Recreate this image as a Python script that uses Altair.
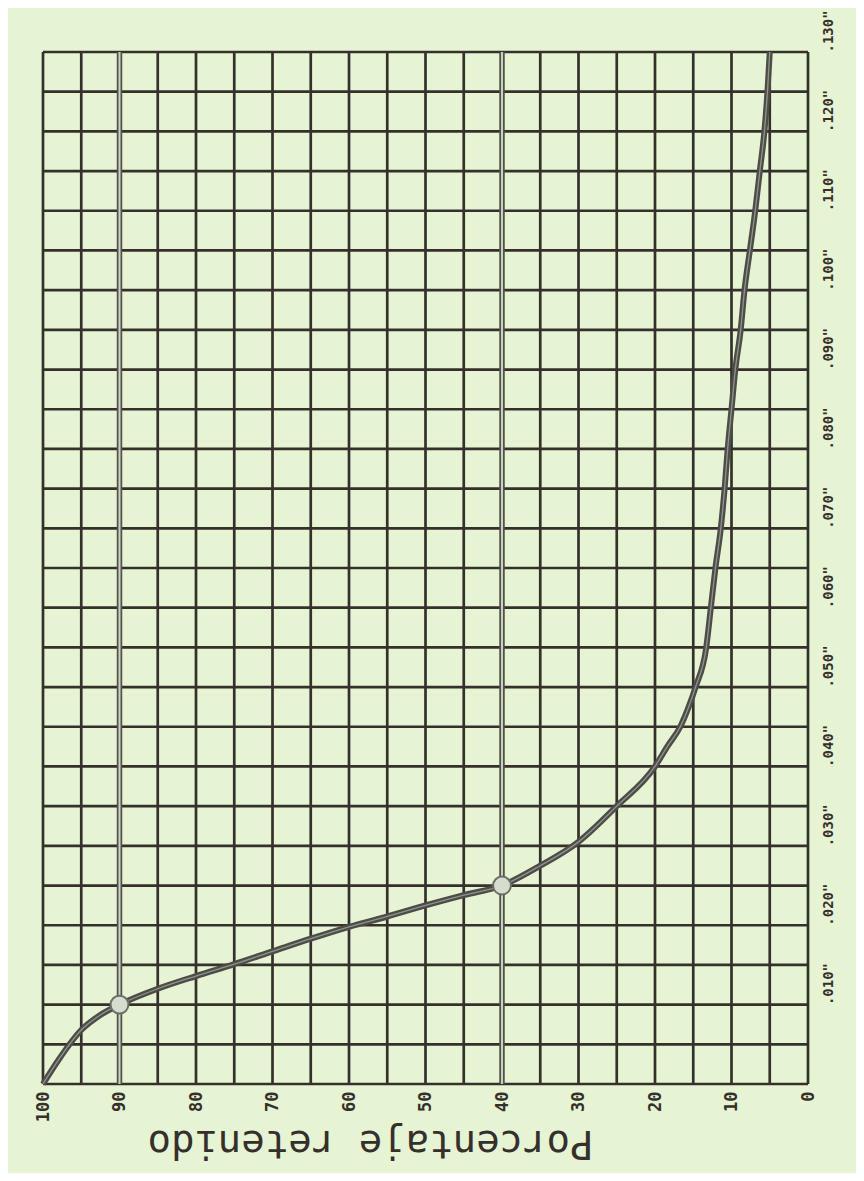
import altair as alt
import pandas as pd

# Curve: percent retained vs particle size (inches)
pct_retained = [100, 98, 95, 92.5, 90, 85, 80, 75, 70, 65, 60, 55, 50, 45, 40, 35, 30, 25, 20, 18.4,
                16.7, 15.6, 14.7, 13.3, 12.7, 12.1, 11.4, 10.9, 10.5, 10.0, 9.5, 8.8, 8.3, 7.6, 6.9, 6.3,
                5.7, 5.3, 5.0]
size_in = [0.0, 0.003, 0.0068, 0.0087, 0.010, 0.0120, 0.0136, 0.0151, 0.0167, 0.0183, 0.0198, 0.0211,
           0.0225, 0.0238, 0.025, 0.0275, 0.0305, 0.035, 0.0400, 0.0425,
           0.045, 0.0475, 0.050, 0.055, 0.060, 0.065, 0.070, 0.075, 0.080, 0.085, 0.090, 0.095,
           0.100, 0.105, 0.110, 0.115, 0.120, 0.125, 0.130]

# Marked points (circles)
marked_pct = [90, 40]
marked_in = [0.010, 0.025]

# Axis labels
x_label_values = [100, 90, 80, 70, 60, 50, 40, 30, 20, 10, 0]
y_label_values = [0.010, 0.020, 0.030, 0.040, 0.050, 0.060, 0.070, 0.080, 0.090, 0.100, 0.110, 0.120, 0.130]

# Grid lines
grid_pct = [0, 5, 10, 15, 20, 25, 30, 35, 40, 45, 50, 55, 60, 65, 70, 75, 80, 85, 90, 95, 100]
grid_in = [0.000, 0.005, 0.010, 0.015, 0.020, 0.025, 0.030, 0.035, 0.040, 0.045, 0.050, 0.055, 0.060,
           0.065, 0.070, 0.075, 0.080, 0.085, 0.090, 0.095, 0.100, 0.105, 0.110, 0.115, 0.120, 0.125, 0.130]
heavy_pct = [90, 40]

PAPER = "#e6f4d3"
INK = "#35302b"
FONT = "DejaVu Sans Mono"

xs = alt.Scale(domain=[100, 0], nice=False, zero=False)
ys = alt.Scale(domain=[0, 0.130], nice=False, zero=False)

curve_df = pd.DataFrame({"p": pct_retained, "s": size_in, "o": list(range(len(size_in)))})
mark_df = pd.DataFrame({"p": marked_pct, "s": marked_in})
gv_df = pd.DataFrame({"p": grid_pct})
gh_df = pd.DataFrame({"s": grid_in})
heavy_df = pd.DataFrame({"p": heavy_pct})

x_axis = alt.Axis(
    orient="bottom", values=x_label_values, grid=False, ticks=False, domain=False,
    labelAngle=270, labelAlign="right", labelBaseline="middle", labelPadding=7,
    labelFont=FONT, labelFontSize=17, labelFontWeight="bold", labelColor=INK,
    title="Porcentaje retenido", titleAngle=180, titleFont=FONT, titleFontSize=39,
    titleFontWeight="normal", titleColor=INK, titleAlign="center", titleBaseline="middle",
    titleX=327, titleY=58,
)
y_axis = alt.Axis(
    orient="right", values=y_label_values, grid=False, ticks=False, domain=False,
    labelAngle=270, labelAlign="left", labelBaseline="middle", labelPadding=20,
    labelFont=FONT, labelFontSize=14, labelFontWeight="bold", labelColor=INK,
    labelExpr="replace(format(datum.value, '.3f'), '0.', '.') + '\"'",
    title=None,
)


def X():
    return alt.X("p:Q", scale=xs, axis=x_axis)


def Y():
    return alt.Y("s:Q", scale=ys, axis=y_axis)


grid_v = alt.Chart(gv_df).mark_rule(color=INK, strokeWidth=2.7).encode(x=X())
grid_h = alt.Chart(gh_df).mark_rule(color=INK, strokeWidth=2.7).encode(y=Y())
heavy_outer = alt.Chart(heavy_df).mark_rule(color="#55524c", strokeWidth=5.5).encode(x=X())
heavy_inner = alt.Chart(heavy_df).mark_rule(color="#c9d2c2", strokeWidth=2).encode(x=X())

curve_outer = alt.Chart(curve_df).mark_line(
    color="#4e4c48", strokeWidth=6, interpolate="monotone"
).encode(x=X(), y=Y(), order=alt.Order("o:Q"))
curve_inner = alt.Chart(curve_df).mark_line(
    color="#8f958c", strokeWidth=1.3, interpolate="monotone"
).encode(x=X(), y=Y(), order=alt.Order("o:Q"))
circles = alt.Chart(mark_df).mark_point(
    shape="circle", filled=True, size=320, color="#d5ddce", stroke="#6e6d67", strokeWidth=2, opacity=1
).encode(x=X(), y=Y())

chart = alt.layer(
    grid_v, grid_h, heavy_outer, heavy_inner, curve_outer, curve_inner, circles
).properties(
    width=765, height=1032,
    background=PAPER,
    autosize=alt.AutoSizeParams(type="none"),
    padding={"left": 35, "top": 44, "right": 48, "bottom": 89},
).configure_view(stroke=None)

chart.save("out.html", embed_options={"renderer": "svg", "actions": False})
